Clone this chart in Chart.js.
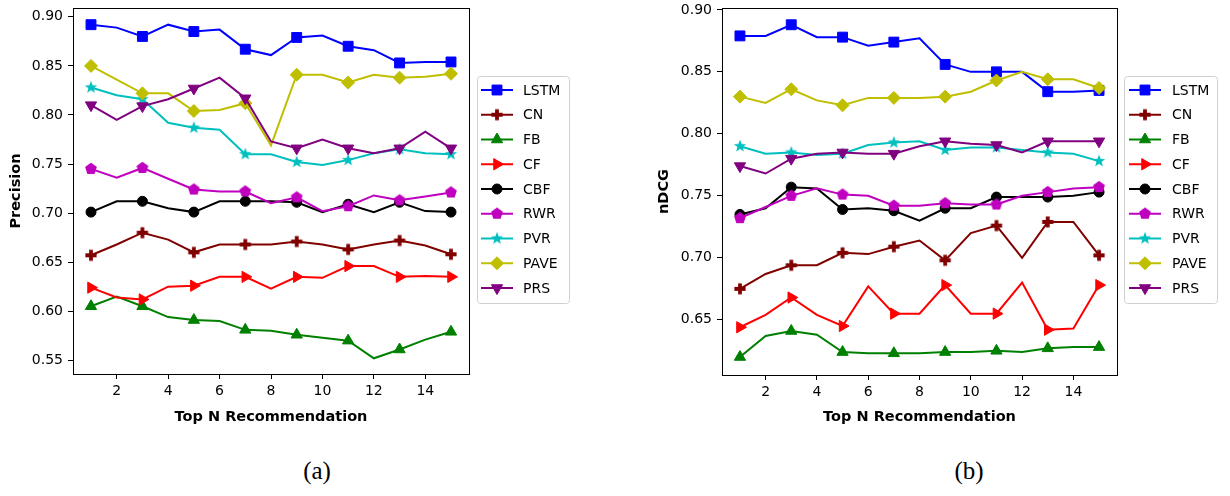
<!DOCTYPE html>
<html>
<head>
<meta charset="utf-8">
<script src="https://cdn.jsdelivr.net/npm/chart.js@4.4.0/dist/chart.umd.min.js"></script>
<style>
  body { margin: 0; background: #fff; width: 1230px; height: 496px; position: relative; overflow: hidden; }
  canvas { position: absolute; top: 0; }
  #chartA { left: 0; }
  #chartB { left: 615px; }
  .caption { position: absolute; top: 457px; width: 60px; text-align: center;
             font-family: "Liberation Serif", serif; font-size: 25px; color: #000; }
</style>
</head>
<body>
<canvas id="chartA" width="615" height="440"></canvas>
<canvas id="chartB" width="615" height="440"></canvas>
<div class="caption" style="left:287px">(a)</div>
<div class="caption" style="left:939px">(b)</div>
<script>
// data
const topN = [1, 2, 3, 4, 5, 6, 7, 8, 9, 10, 11, 12, 13, 14, 15];
const xTicks = [2, 4, 6, 8, 10, 12, 14];
const precisionTicks = [0.55, 0.60, 0.65, 0.70, 0.75, 0.80, 0.85, 0.90];
const ndcgTicks = [0.65, 0.70, 0.75, 0.80, 0.85, 0.90];
const methods = ['LSTM', 'CN', 'FB', 'CF', 'CBF', 'RWR', 'PVR', 'PAVE', 'PRS'];

const lstmP = [0.892, 0.889, 0.880, 0.892, 0.885, 0.887, 0.867, 0.861, 0.879, 0.881, 0.870, 0.866, 0.853, 0.854, 0.854];
const cnP   = [0.657, 0.668, 0.680, 0.673, 0.660, 0.668, 0.668, 0.668, 0.671, 0.668, 0.663, 0.668, 0.672, 0.667, 0.658];
const fbP   = [0.605, 0.615, 0.605, 0.594, 0.591, 0.590, 0.581, 0.580, 0.576, 0.573, 0.570, 0.552, 0.561, 0.571, 0.579];
const cfP   = [0.624, 0.614, 0.612, 0.625, 0.626, 0.635, 0.635, 0.623, 0.635, 0.634, 0.646, 0.646, 0.635, 0.636, 0.635];
const cbfP  = [0.701, 0.712, 0.712, 0.705, 0.701, 0.712, 0.712, 0.712, 0.711, 0.701, 0.709, 0.701, 0.711, 0.702, 0.701];
const rwrP  = [0.745, 0.736, 0.746, 0.735, 0.724, 0.722, 0.722, 0.710, 0.716, 0.702, 0.707, 0.718, 0.713, 0.717, 0.721];
const pvrP  = [0.828, 0.820, 0.816, 0.792, 0.787, 0.785, 0.760, 0.760, 0.752, 0.749, 0.754, 0.761, 0.765, 0.761, 0.760];
const paveP = [0.850, 0.836, 0.822, 0.822, 0.804, 0.805, 0.812, 0.769, 0.841, 0.841, 0.833, 0.841, 0.838, 0.839, 0.842];
const prsP  = [0.810, 0.795, 0.809, 0.816, 0.827, 0.838, 0.817, 0.773, 0.766, 0.775, 0.766, 0.761, 0.766, 0.783, 0.766];

const lstmN = [0.879, 0.879, 0.888, 0.878, 0.878, 0.871, 0.874, 0.877, 0.856, 0.850, 0.850, 0.850, 0.834, 0.834, 0.835];
const cnN   = [0.675, 0.687, 0.694, 0.694, 0.704, 0.703, 0.709, 0.714, 0.698, 0.720, 0.726, 0.700, 0.729, 0.729, 0.702];
const fbN   = [0.620, 0.637, 0.641, 0.638, 0.624, 0.623, 0.623, 0.623, 0.624, 0.624, 0.625, 0.624, 0.627, 0.628, 0.628];
const cfN   = [0.644, 0.654, 0.668, 0.654, 0.645, 0.677, 0.655, 0.655, 0.678, 0.655, 0.655, 0.680, 0.642, 0.643, 0.678];
const cbfN  = [0.735, 0.740, 0.757, 0.756, 0.739, 0.740, 0.738, 0.730, 0.740, 0.740, 0.749, 0.749, 0.749, 0.750, 0.753];
const rwrN  = [0.732, 0.741, 0.750, 0.756, 0.751, 0.750, 0.742, 0.742, 0.744, 0.743, 0.743, 0.750, 0.753, 0.756, 0.757];
const pvrN  = [0.790, 0.784, 0.785, 0.783, 0.784, 0.791, 0.793, 0.794, 0.787, 0.789, 0.789, 0.787, 0.785, 0.784, 0.778];
const paveN = [0.830, 0.825, 0.836, 0.827, 0.823, 0.829, 0.829, 0.829, 0.830, 0.834, 0.843, 0.850, 0.844, 0.844, 0.837];
const prsN  = [0.774, 0.768, 0.780, 0.784, 0.785, 0.784, 0.784, 0.790, 0.794, 0.792, 0.791, 0.785, 0.794, 0.794, 0.794];

const colors = ['#0000ff', '#800000', '#008000', '#ff0000', '#000000', '#bf00bf', '#00bfbf', '#bfbf00', '#800080'];
const markers = ['square', 'plus', 'triUp', 'triRight', 'circle', 'pentagon', 'star', 'diamond', 'triDown'];

const FONT = "'DejaVu Sans', sans-serif";

// filled marker shapes chart.js does not have
function shapeCanvas(kind, color) {
  const s = 16;
  const c = document.createElement('canvas');
  c.width = s; c.height = s;
  const g = c.getContext('2d');
  g.translate(s / 2, s / 2);
  g.fillStyle = color;
  g.beginPath();
  if (kind === 'plus') {
    const a = 5.6, b = 1.9;
    const pts = [[-b,-a],[b,-a],[b,-b],[a,-b],[a,b],[b,b],[b,a],[-b,a],[-b,b],[-a,b],[-a,-b],[-b,-b]];
    pts.forEach((p, i) => i ? g.lineTo(p[0], p[1]) : g.moveTo(p[0], p[1]));
  } else if (kind === 'pentagon') {
    for (let k = 0; k < 5; k++) {
      const t = -Math.PI / 2 + k * 2 * Math.PI / 5;
      g.lineTo(6.2 * Math.cos(t), 6.2 * Math.sin(t));
    }
  } else if (kind === 'star') {
    for (let k = 0; k < 10; k++) {
      const t = -Math.PI / 2 + k * Math.PI / 5;
      const r = k % 2 ? 2.7 : 6.6;
      g.lineTo(r * Math.cos(t), r * Math.sin(t));
    }
  }
  g.closePath();
  g.fill();
  return c;
}

function markerStyle(kind, color) {
  switch (kind) {
    case 'square': return { style: 'rect', rot: 0, r: 7 };
    case 'circle': return { style: 'circle', rot: 0, r: 5 };
    case 'diamond': return { style: 'rectRot', rot: 0, r: 6.5 };
    case 'triUp': return { style: 'triangle', rot: 0, r: 6.5 };
    case 'triRight': return { style: 'triangle', rot: 90, r: 6.5 };
    case 'triDown': return { style: 'triangle', rot: 180, r: 6.5 };
    default: return { style: shapeCanvas(kind, color), rot: 0, r: 6 };
  }
}

function makeDatasets(series) {
  return series.map((vals, i) => {
    const m = markerStyle(markers[i], colors[i]);
    return {
      label: methods[i],
      data: topN.map((x, j) => ({ x: x, y: vals[j] })),
      borderColor: colors[i],
      backgroundColor: colors[i],
      borderWidth: 2,
      tension: 0,
      pointStyle: m.style,
      pointRotation: m.rot,
      pointRadius: ctx => ctx.dataIndex % 2 === 0 ? m.r : 0,
      pointBorderWidth: 1,
      pointBorderColor: colors[i],
      pointBackgroundColor: colors[i],
      legendRadius: m.r,
      order: series.length - i
    };
  });
}

const framePlugin = {
  id: 'frame',
  afterDatasetsDraw(chart) {
    const a = chart.chartArea, ctx = chart.ctx;
    ctx.save();
    ctx.strokeStyle = '#000';
    ctx.lineWidth = 1;
    ctx.strokeRect(Math.round(a.left) + 0.5, Math.round(a.top) + 0.5,
                   Math.round(a.right - a.left), Math.round(a.bottom - a.top));
    ctx.restore();
  }
};

function legendPlugin(box) {
  return {
    id: 'sideLegend',
    afterDraw(chart) {
      const ctx = chart.ctx;
      ctx.save();
      ctx.beginPath();
      ctx.roundRect(box.x0 + 0.5, box.y0 + 0.5, box.w, box.h, 3);
      ctx.fillStyle = '#fff';
      ctx.fill();
      ctx.strokeStyle = '#d0d0d0';
      ctx.lineWidth = 1;
      ctx.stroke();
      ctx.font = '14px ' + FONT;
      ctx.textBaseline = 'middle';
      chart.data.datasets.forEach((ds, i) => {
        const y = box.first + i * box.step;
        ctx.strokeStyle = ds.borderColor;
        ctx.lineWidth = 2;
        ctx.beginPath();
        ctx.moveTo(box.lx0, y);
        ctx.lineTo(box.lx1, y);
        ctx.stroke();
        ctx.fillStyle = ds.borderColor;
        ctx.lineWidth = 1;
        Chart.helpers.drawPoint(ctx, {
          pointStyle: ds.pointStyle, rotation: ds.pointRotation,
          radius: ds.legendRadius, borderWidth: 1
        }, (box.lx0 + box.lx1) / 2, y);
        ctx.fillStyle = '#000';
        ctx.fillText(ds.label, box.tx, y + 1);
      });
      ctx.restore();
    }
  };
}

function makeChart(id, series, yTicks, yMin, yMax, yTitle, geo) {
  new Chart(document.getElementById(id), {
    type: 'line',
    data: { datasets: makeDatasets(series) },
    plugins: [framePlugin, legendPlugin(geo.legend)],
    options: {
      responsive: false,
      animation: false,
      events: [],
      layout: { padding: { top: geo.top, right: geo.right, left: 0, bottom: 0 } },
      plugins: { legend: { display: false }, tooltip: { enabled: false } },
      scales: {
        x: {
          type: 'linear', min: 0.3, max: 15.7,
          afterBuildTicks: s => { s.ticks = xTicks.map(v => ({ value: v })); },
          afterFit: s => { s.height = geo.xHeight; s.paddingLeft = 0; s.paddingRight = 0; },
          ticks: { font: { family: FONT, size: 14 }, color: '#000', padding: 4, maxRotation: 0,
                   callback: v => String(v) },
          grid: { display: true, drawOnChartArea: false, drawTicks: true, tickLength: 5, color: '#000' },
          border: { display: false },
          title: { display: true, text: 'Top N Recommendation', color: '#000',
                   font: { family: FONT, size: 14.5, weight: 'bold' }, padding: { top: 0, bottom: 14 } }
        },
        y: {
          type: 'linear', min: yMin, max: yMax,
          afterBuildTicks: s => { s.ticks = yTicks.map(v => ({ value: v })); },
          afterFit: s => { s.width = geo.yWidth; s.paddingTop = 0; s.paddingBottom = 0; },
          ticks: { font: { family: FONT, size: 14 }, color: '#000', padding: 5,
                   callback: v => v.toFixed(2) },
          grid: { display: true, drawOnChartArea: false, drawTicks: true, tickLength: 5, color: '#000' },
          border: { display: false },
          title: { display: true, text: yTitle, color: '#000',
                   font: { family: FONT, size: 14.5, weight: 'bold' }, padding: { top: geo.yTitlePad, bottom: 0 } }
        }
      }
    }
  });
}

makeChart('chartA', [lstmP, cnP, fbP, cfP, cbfP, rwrP, pvrP, paveP, prsP],
  precisionTicks, 0.536, 0.909, 'Precision',
  { top: 5, right: 146, xHeight: 66, yWidth: 73, yTitlePad: 8,
    legend: { x0: 477, y0: 76, w: 92, h: 227, first: 90, step: 24.75, lx0: 481, lx1: 513, tx: 523 } });

makeChart('chartB', [lstmN, cnN, fbN, cfN, cbfN, rwrN, pvrN, paveN, prsN],
  ndcgTicks, 0.6055, 0.9015, 'nDCG',
  { top: 6, right: 113, xHeight: 65, yWidth: 107, yTitlePad: 41,
    legend: { x0: 509, y0: 76, w: 93, h: 227, first: 90, step: 24.75, lx0: 514, lx1: 546, tx: 557 } });
</script>
</body>
</html>
